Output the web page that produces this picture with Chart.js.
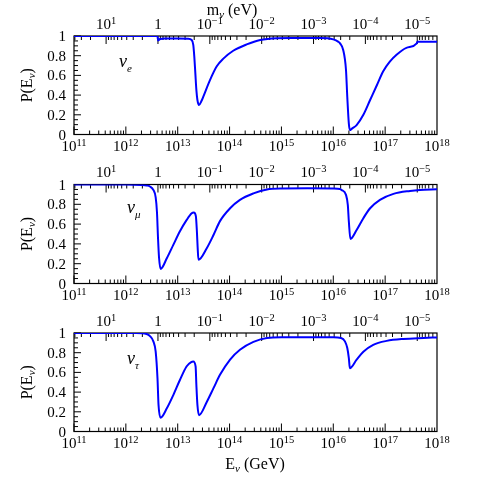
<!DOCTYPE html>
<html>
<head>
<meta charset="utf-8">
<script src="https://cdn.jsdelivr.net/npm/chart.js@4.4.0/dist/chart.umd.min.js"></script>
<style>
  html, body { margin: 0; padding: 0; background: #fff; }
  #wrap { position: relative; width: 477px; height: 477px; }
  #wrap canvas { position: absolute; left: 0; top: 0; }
</style>
</head>
<body>
<div id="wrap">
  <canvas id="panel-e" width="477" height="477"></canvas>
  <canvas id="panel-mu" width="477" height="477"></canvas>
  <canvas id="panel-tau" width="477" height="477"></canvas>
</div>
<script>
// survival probability vs log10(E/GeV)
const logE_e = [11, 12.0, 12.61, 12.62, 12.66, 12.75, 13.0, 13.2, 13.27, 13.3, 13.32, 13.34, 13.36, 13.38, 13.41,
    13.46, 13.49, 13.62, 13.75, 13.88, 14.07, 14.33, 14.59, 14.91, 15.2, 15.74, 16.0, 16.1, 16.13, 16.19, 16.245,
    16.27, 16.3, 16.32, 16.36, 16.45, 16.58, 16.71, 16.84, 16.96, 17.09, 17.22, 17.41, 17.61, 17.62, 18];
const prob_e = [1.0, 1.0, 1.0, 0.955, 0.97, 0.975, 0.975, 0.973, 0.96, 0.91, 0.79, 0.62, 0.45, 0.35, 0.30,
    0.343, 0.38, 0.55, 0.69, 0.77, 0.85, 0.915, 0.96, 0.978, 0.98, 0.98, 0.966, 0.94, 0.925, 0.86, 0.655,
    0.38, 0.11, 0.045, 0.06, 0.096, 0.2, 0.35, 0.50, 0.64, 0.74, 0.81, 0.88, 0.925, 0.942, 0.942];

const logE_mu = [11, 12.0, 12.3, 12.4, 12.465, 12.53, 12.575, 12.6, 12.62, 12.64, 12.67, 12.79, 12.915, 13.04, 13.17,
    13.27, 13.31, 13.35, 13.37, 13.385, 13.4, 13.56, 13.69, 13.815, 14.01, 14.2, 14.46, 14.72, 15.0, 15.5, 16.0,
    16.13, 16.16, 16.245, 16.28, 16.3, 16.33, 16.45, 16.58, 16.71, 16.9, 17.16, 17.48, 17.67, 18];
const prob_mu = [1.0, 1.0, 0.995, 0.99, 0.98, 0.945, 0.87, 0.72, 0.46, 0.26, 0.147, 0.255, 0.39, 0.525, 0.64,
    0.71, 0.717, 0.68, 0.525, 0.357, 0.24, 0.357, 0.49, 0.63, 0.76, 0.845, 0.91, 0.95, 0.96, 0.962, 0.96,
    0.955, 0.945, 0.895, 0.794, 0.626, 0.45, 0.54, 0.66, 0.76, 0.845, 0.905, 0.935, 0.945, 0.952];

const logE_tau = [11, 12.2, 12.4, 12.47, 12.53, 12.575, 12.61, 12.63, 12.67, 12.79, 12.915, 13.04, 13.17, 13.26,
    13.3, 13.345, 13.36, 13.38, 13.41, 13.56, 13.69, 13.815, 14.01, 14.2, 14.46, 14.72, 15.0, 16.0, 16.15, 16.225,
    16.27, 16.3, 16.32, 16.45, 16.58, 16.77, 17.03, 17.35, 17.74, 18];
const prob_tau = [1.0, 1.0, 0.99, 0.966, 0.915, 0.81, 0.54, 0.27, 0.14, 0.235, 0.37, 0.52, 0.66, 0.705,
    0.71, 0.66, 0.47, 0.27, 0.166, 0.30, 0.44, 0.575, 0.73, 0.83, 0.91, 0.95, 0.956, 0.956, 0.95, 0.915,
    0.847, 0.745, 0.643, 0.73, 0.81, 0.88, 0.92, 0.94, 0.95, 0.955];

const energyTicks = [11, 12, 13, 14, 15, 16, 17, 18];   // log10 E (GeV)
const massTicks = [1, 0, -1, -2, -3, -4, -5];           // log10 m (eV)
const probTicks = [0, 0.2, 0.4, 0.6, 0.8, 1];
const E_TIMES_M = 4.16e12;  // E_res (GeV) * m (eV) = M_Z^2 / 2

const FONT = 'Liberation Serif';
const BLUE = '#0000ff';

function drawRich(ctx, parts, x, y, align) {
    let w = 0;
    parts.forEach(p => { ctx.font = p.font; p.w = ctx.measureText(p.t).width; w += p.w; });
    let cx = align === 'right' ? x - w : (align === 'left' ? x : x - w / 2);
    parts.forEach(p => {
        ctx.font = p.font;
        ctx.textAlign = 'left';
        ctx.fillText(p.t, cx, y + (p.dy || 0));
        cx += p.w;
    });
}

function powParts(n) {
    if (n === 0) return [{ t: '1', font: `15px "${FONT}"` }];
    const exp = n < 0 ? '\u2212' + (-n) : String(n);
    return [{ t: '10', font: `15px "${FONT}"` }, { t: exp, font: `10.5px "${FONT}"`, dy: -5 }];
}

const frameAxes = {
    id: 'frameAxes',
    beforeDatasetsDraw(chart) {
        const { ctx, chartArea: a, scales } = chart;
        const o = chart.options.plugins.frameAxes;
        ctx.save();
        ctx.strokeStyle = '#000';
        ctx.fillStyle = '#000';
        ctx.lineWidth = 1.2;
        ctx.strokeRect(a.left, a.top, a.right - a.left, a.bottom - a.top);

        ctx.lineWidth = 1;
        ctx.beginPath();
        // energy ticks, pointing in from the bottom
        for (let n = 11; n < 18; n++) {
            for (let k = 1; k < 10; k++) {
                const x = scales.x.getPixelForValue(k * Math.pow(10, n));
                ctx.moveTo(x, a.bottom);
                ctx.lineTo(x, a.bottom - (k === 1 ? 8 : 4));
            }
        }
        // mass ticks, pointing in from the top
        for (let n = -6; n <= 1; n++) {
            for (let k = 1; k < 10; k++) {
                const v = k * Math.pow(10, n);
                if (v < scales.m.min || v > scales.m.max) continue;
                const x = scales.m.getPixelForValue(v);
                ctx.moveTo(x, a.top);
                ctx.lineTo(x, a.top + (k === 1 ? 8 : 4));
            }
        }
        // probability ticks
        for (let i = 0; i <= 20; i++) {
            const y = scales.y.getPixelForValue(i * 0.05);
            ctx.moveTo(a.left, y);
            ctx.lineTo(a.left + (i % 4 === 0 ? 7 : 4), y);
        }
        ctx.stroke();

        ctx.textBaseline = 'alphabetic';
        energyTicks.forEach(n => {
            drawRich(ctx, powParts(n), scales.x.getPixelForValue(Math.pow(10, n)), a.bottom + 16.5, 'center');
        });
        massTicks.forEach(n => {
            drawRich(ctx, powParts(n), scales.m.getPixelForValue(Math.pow(10, n)), a.top - 7.5, 'center');
        });
        probTicks.forEach(v => {
            drawRich(ctx, [{ t: String(v), font: `15px "${FONT}"` }], a.left - 8, scales.y.getPixelForValue(v) + 5, 'right');
        });

        // y title
        ctx.save();
        ctx.translate(27, (a.top + a.bottom) / 2);
        ctx.rotate(-Math.PI / 2);
        drawRich(ctx, [
            { t: 'P(E', font: `16px "${FONT}"` },
            { t: '\u03bd', font: `italic 11px "${FONT}"`, dy: 3 },
            { t: ')', font: `16px "${FONT}"` }
        ], 0, 5, 'center');
        ctx.restore();

        // flavour label
        drawRich(ctx, [
            { t: '\u03bd', font: `italic 18px "${FONT}"` },
            { t: o.flavour, font: `italic 11px "${FONT}"`, dy: 5 }
        ], o.labelX, a.top + o.labelDy, 'left');

        if (o.topTitle) {
            drawRich(ctx, [
                { t: 'm', font: `16px "${FONT}"` },
                { t: '\u03bd', font: `italic 11px "${FONT}"`, dy: 3 },
                { t: ' (eV)', font: `16px "${FONT}"` }
            ], 232, 15, 'center');
        }
        if (o.bottomTitle) {
            drawRich(ctx, [
                { t: 'E', font: `16px "${FONT}"` },
                { t: '\u03bd', font: `italic 11px "${FONT}"`, dy: 3 },
                { t: ' (GeV)', font: `16px "${FONT}"` }
            ], 255, 468.5, 'center');
        }
        ctx.restore();
    }
};

function toPoints(logE, prob) {
    return logE.map((e, i) => ({ x: Math.pow(10, e), y: prob[i] }));
}

function makePanel(canvasId, logE, prob, top, bottom, extra) {
    return new Chart(document.getElementById(canvasId), {
        type: 'line',
        data: {
            datasets: [{
                data: toPoints(logE, prob),
                borderColor: BLUE,
                borderWidth: 2,
                pointRadius: 0,
                cubicInterpolationMode: 'monotone',
                fill: false
            }]
        },
        options: {
            responsive: false,
            animation: false,
            devicePixelRatio: 1,
            layout: { padding: { left: 74, right: 40, top: top, bottom: 477 - bottom } },
            scales: {
                x: { type: 'logarithmic', display: false, min: 1e11, max: 1e18 },
                m: { type: 'logarithmic', axis: 'x', display: false, reverse: true,
                     min: E_TIMES_M / 1e18, max: E_TIMES_M / 1e11 },
                y: { type: 'linear', display: false, min: 0, max: 1 }
            },
            plugins: {
                legend: { display: false },
                tooltip: { enabled: false },
                frameAxes: extra
            }
        },
        plugins: [frameAxes]
    });
}

makePanel('panel-e', logE_e, prob_e, 36, 134.5,
    { flavour: 'e', labelX: 119, labelDy: 31, topTitle: true });
makePanel('panel-mu', logE_mu, prob_mu, 184.5, 283.5,
    { flavour: '\u03bc', labelX: 127, labelDy: 28.5 });
makePanel('panel-tau', logE_tau, prob_tau, 333, 431.5,
    { flavour: '\u03c4', labelX: 127, labelDy: 31, bottomTitle: true });
</script>
</body>
</html>
